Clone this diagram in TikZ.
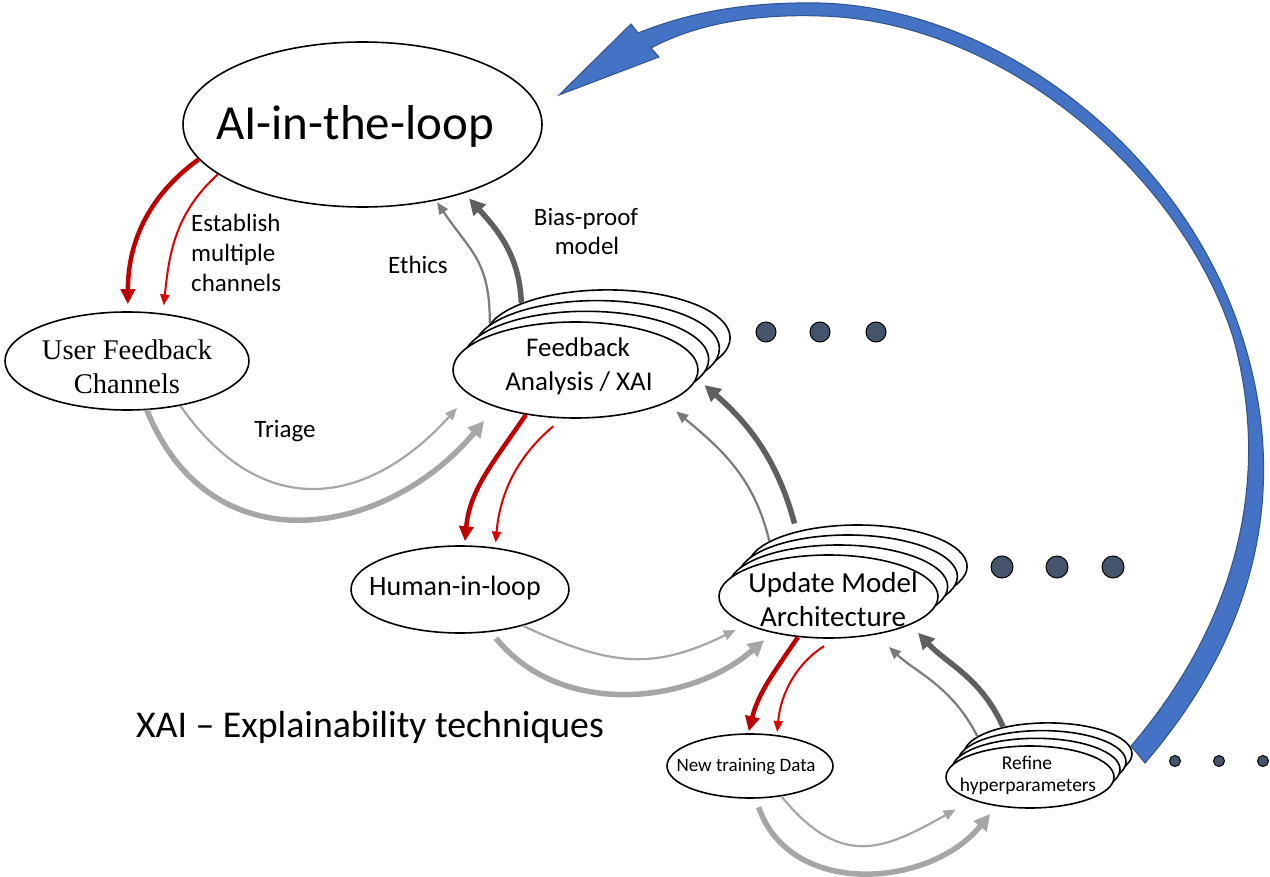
\documentclass[tikz,border=0pt]{standalone}
\usepackage{fontspec}
\setmainfont{Carlito}
\newfontfamily\timesf{Liberation Serif}
\usetikzlibrary{shapes.geometric,arrows.meta}
\definecolor{dred}{HTML}{C00000}
\definecolor{bred}{HTML}{E00000}
\definecolor{lgray}{HTML}{A6A6A6}
\definecolor{mgray}{HTML}{7A7A7A}
\definecolor{dgray}{HTML}{5F5F5F}
\definecolor{dotc}{HTML}{44546A}
\definecolor{blu}{HTML}{4472C4}
\definecolor{bluedge}{HTML}{2F528F}
\begin{document}
\begin{tikzpicture}[x=1pt,y=-1pt,
  ell/.style={ellipse,draw=black,line width=1.6pt,fill=white,inner sep=0pt},
  dotn/.style={circle,draw=black,line width=1pt,fill=dotc,inner sep=0pt},
  txt/.style={inner sep=0pt,anchor=base},
  lbl/.style={inner sep=0pt,font=\fontsize{25pt}{30pt}\selectfont},
  redthick/.style={draw=dred,line width=4.5pt,-{Triangle[length=15pt,width=14pt]}},
  redthin/.style={draw=bred,line width=2pt,-{Triangle[length=11pt,width=9pt]}},
  lgthick/.style={draw=lgray,line width=5.5pt,-{Triangle[length=16pt,width=16pt]}},
  lgthin/.style={draw=lgray,line width=2.2pt,-{Triangle[length=12pt,width=10pt]}},
  dgthick/.style={draw=dgray,line width=5.5pt,-{Triangle[length=16pt,width=16pt]}},
  dgthin/.style={draw=mgray,line width=2.2pt,-{Triangle[length=12pt,width=10pt]}}
]
\useasboundingbox (0,0) rectangle (1270,877);

% big blue curved arrow
\filldraw[fill=blu,draw=bluedge,line width=1pt]
  (638,33) .. controls (700,8) and (760,2) .. (820,3)
  .. controls (1000,8) and (1180,150) .. (1240,330)
  .. controls (1287,470) and (1268,620) .. (1145,763)
  -- (1131,746)
  .. controls (1243,615) and (1270,470) .. (1233,337)
  .. controls (1180,172) and (1000,20) .. (820,16)
  .. controls (760,14) and (700,22) .. (651,48)
  -- (659,57) -- (559,95) -- (631,24) -- cycle;

% nodes
\node[ell,minimum width=359pt,minimum height=165pt] (ai) at (362.5,124.5) {};
\node[txt,font=\fontsize{49pt}{58pt}\selectfont] (ait) at (355,140) {AI-in-the-loop};

\node[ell,minimum width=244pt,minimum height=98pt] (ufc) at (127,361) {};
\node[txt,font=\timesf\fontsize{28.5pt}{34pt}\selectfont] (ufct1) at (127,360) {User Feedback};
\node[txt,font=\timesf\fontsize{28.5pt}{34pt}\selectfont] (ufct2) at (127,394) {Channels};

\foreach \k in {3,2,1}
  \node[ell,minimum width=245pt,minimum height=96pt] (fa\k) at ({575.5+10.7*\k},{370-10.7*\k}) {};
\node[ell,minimum width=245pt,minimum height=96pt] (fa) at (575.5,370) {};
\node[txt,font=\fontsize{27pt}{32pt}\selectfont] (fat1) at (578,357) {Feedback};
\node[txt,font=\fontsize{27pt}{32pt}\selectfont] (fat2) at (579,391) {Analysis / XAI};
\node[dotn,minimum size=20pt] (fd1) at (766,332) {};
\node[dotn,minimum size=20pt] (fd2) at (820,332) {};
\node[dotn,minimum size=20pt] (fd3) at (876,332) {};

\foreach \k in {3,2,1}
  \node[ell,minimum width=219pt,minimum height=83pt] (uma\k) at ({828.5+9.7*\k},{596.5-10*\k}) {};
\node[ell,minimum width=219pt,minimum height=83pt] (uma) at (828.5,596.5) {};
\node[txt,font=\fontsize{29pt}{34pt}\selectfont] (umat1) at (833,592) {Update Model};
\node[txt,font=\fontsize{29pt}{34pt}\selectfont] (umat2) at (833,626) {Architecture};
\node[dotn,minimum size=22pt] (ud1) at (1002,567) {};
\node[dotn,minimum size=22pt] (ud2) at (1057,567) {};
\node[dotn,minimum size=22pt] (ud3) at (1113,567) {};

\node[ell,minimum width=218pt,minimum height=87pt] (hil) at (460,589.5) {};
\node[txt,font=\fontsize{28pt}{32pt}\selectfont] (hilt) at (455,595) {Human-in-loop};

\node[ell,minimum width=166pt,minimum height=64pt] (ntd) at (750,766) {};
\node[txt,font=\fontsize{19pt}{23pt}\selectfont] (ntdt) at (746,771) {New training Data};

\foreach \k in {3,2,1}
  \node[ell,minimum width=168pt,minimum height=62pt] (ref\k) at ({1030+6*\k},{777-7.7*\k}) {};
\node[ell,minimum width=168pt,minimum height=62pt] (ref) at (1030,777) {};
\node[txt,font=\fontsize{19.5pt}{23pt}\selectfont] (reft1) at (1027,769) {Refine};
\node[txt,font=\fontsize{19.5pt}{23pt}\selectfont] (reft2) at (1028,791) {hyperparameters};
\node[dotn,minimum size=11pt] (rd1) at (1175,761) {};
\node[dotn,minimum size=11pt] (rd2) at (1219,761) {};
\node[dotn,minimum size=11pt] (rd3) at (1263,761) {};

% labels
\node[lbl,anchor=base west] (l1) at (191,232) {Establish};
\node[lbl,anchor=base west] (l2) at (191,262) {multiple};
\node[lbl,anchor=base west] (l3) at (191,292) {channels};
\node[lbl,anchor=base] (eth) at (418,274) {Ethics};
\node[lbl,anchor=base] (bp1) at (586,226) {Bias-proof};
\node[lbl,anchor=base] (bp2) at (587,255) {model};
\node[lbl,anchor=base] (tri) at (285,437) {Triage};
\node[txt,font=\fontsize{37.8pt}{44pt}\selectfont] (xai) at (370,737) {XAI -- Explainability techniques};

% connectors
\draw[redthick,shorten >=7pt] (ai.192) to[out=216,in=90] (ufc.89);
\draw[redthin,shorten >=8pt] (ai.199) to[out=222,in=84] (ufc.53);

\draw[dgthin,shorten >=2pt,looseness=1.2] (fa3.173) to[out=90,in=-56] (ai.314);
\draw[dgthick,shorten >=7pt] (fa3.158) to[out=92,in=-48] (ai.-34);

\draw[lgthin,shorten >=18pt,looseness=1.3] (ufc.-40) to[out=-55,in=228] (fa.193);
\draw[lgthick,shorten >=18pt,looseness=1.25] (ufc.-68) to[out=-68,in=230] (fa.205);

\draw[redthick,shorten >=4pt] (fa.-138) to[out=236,in=85] (hil.84);
\draw[redthin,shorten <=12pt,shorten >=5pt] (fa.-105) to[out=220,in=85] (hil.50);

\draw[lgthin,shorten >=12pt,looseness=1.15] (hil.-30) to[out=-25,in=206] (uma.-161);
\draw[lgthick,shorten <=8pt,shorten >=11pt] (hil.-54) to[out=-51,in=221] (uma.-147.6);

\draw[dgthin,shorten >=13pt] (uma3.164) to[out=103,in=-40] (fa.-20);
\draw[dgthick,shorten <=8pt,shorten >=10pt] (uma3.150) to[out=105,in=-41] (fa.-4);

\draw[redthick,shorten >=2pt] (uma.-127.4) to[out=236,in=76] (ntd.93);
\draw[redthin,shorten <=14pt,shorten >=3pt] (uma.-80) to[out=212,in=85] (ntd.49.5);

\draw[dgthin,shorten >=18pt] (ref3.166) to[out=117,in=-43] (uma.-39);
\draw[dgthick,shorten >=11pt] (ref3.149) to[out=114,in=-47] (uma.-19);

\draw[lgthin,shorten >=19pt,looseness=1.3] (ntd.-44) to[out=-51,in=209] (ref.-158);
\draw[lgthick,shorten <=9pt,shorten >=10pt,looseness=1.12] (ntd.-80) to[out=-71,in=231] (ref.-139);
\end{tikzpicture}
\end{document}
